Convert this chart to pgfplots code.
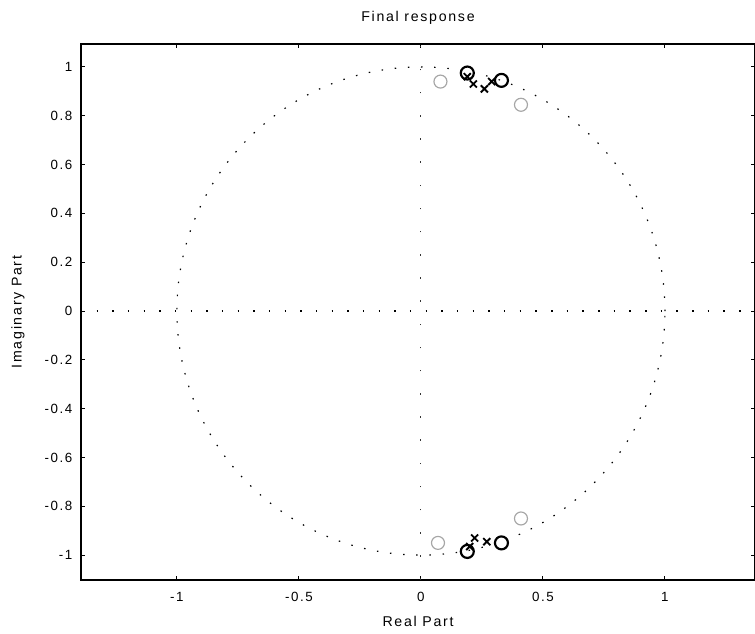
\documentclass[border=0pt]{standalone}
\usepackage{pgfplots}
\pgfplotsset{compat=1.18}
\usepackage{fontspec}
\setmainfont{Liberation Sans}
\newfontfamily\scanfont{Liberation Sans}[LetterSpace=12]
\begin{document}
\begin{tikzpicture}
\useasboundingbox (-48.6pt,-32.4pt) rectangle (404.4pt,348pt);
\begin{axis}[
  at={(0,0)}, anchor=south west,
  scale only axis, width=404.4pt, height=321.6pt,
  xmin=-1.393, xmax=1.369, ymin=-1.102, ymax=1.094,
  axis line style={line width=0.7pt},
  tick align=inside, major tick length=2.2pt,
  tick style={line width=0.6pt, black},
  xtick={-1,-0.5,0,0.5,1},
  xticklabels={-1,-0.5,0,0.5,1},
  ytick={-1,-0.8,-0.6,-0.4,-0.2,0,0.2,0.4,0.6,0.8,1},
  yticklabels={-1,-0.8,-0.6,-0.4,-0.2,0,0.2,0.4,0.6,0.8,1},
  font=\scanfont\fontsize{8}{9.5}\selectfont,
  /pgf/number format/assume math mode=true,
  xticklabel style={anchor=base, yshift=-12.9pt},
  yticklabel style={anchor=east, inner sep=0pt, xshift=-5pt},
  title={Final response},
  title style={at={(axis description cs:0.5,1)}, anchor=base, yshift=7.5pt, font=\scanfont\fontsize{8.5}{10}\selectfont},
  xlabel={Real Part},
  xlabel style={at={(axis description cs:0.5,0)}, anchor=base, yshift=-28.2pt, font=\scanfont\fontsize{8.5}{10}\selectfont},
  ylabel={Imaginary Part},
  ylabel style={at={(axis description cs:0,0.5)}, anchor=center, yshift=37.8pt, font=\scanfont\fontsize{8.5}{10}\selectfont},
  clip=true,
]
% unit circle and axes (dotted, as in zplane)
\draw[black, line width=0.7pt, dash pattern=on 0.9pt off 7pt] (axis cs:0,0) ellipse [x radius=1, y radius=1];
\addplot[black, line width=0.7pt, dash pattern=on 0.9pt off 8.5pt] coordinates {(-1.393,0) (1.369,0)};
\addplot[black!80, line width=0.6pt, dash pattern=on 0.9pt off 13pt] coordinates {(0,-1.102) (0,1.094)};
% zeros (lighter)
\addplot[only marks, mark=o, mark size=3.9pt, gray!70, mark options={line width=0.7pt}] coordinates {
(0.08,0.94) (0.41,0.845) (0.07,-0.95) (0.41,-0.85)
};
% zeros (dark)
\addplot[only marks, mark=o, mark size=3.9pt, black, mark options={line width=1.3pt}] coordinates {
(0.19,0.975) (0.33,0.945) (0.19,-0.985) (0.33,-0.95)
};
% poles
\addplot[only marks, mark=x, mark size=3pt, black, mark options={line width=1.1pt}] coordinates {
(0.19,0.96) (0.215,0.93) (0.26,0.91) (0.29,0.94)
(0.2,-0.965) (0.22,-0.93) (0.27,-0.945)
};
\end{axis}
\end{tikzpicture}
\end{document}
